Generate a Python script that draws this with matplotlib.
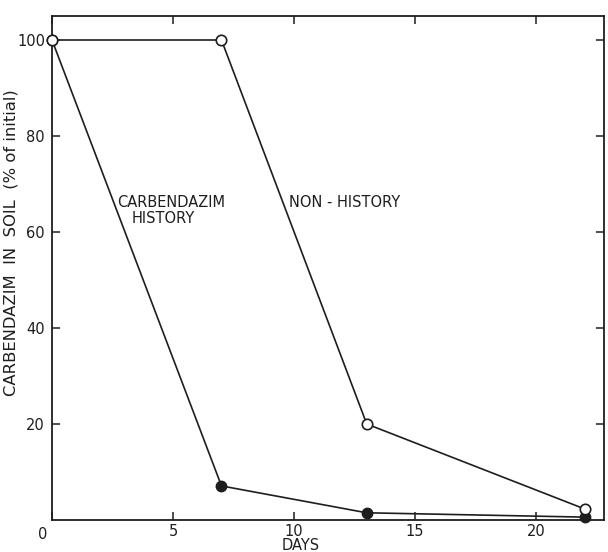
import matplotlib
matplotlib.use('agg')
import matplotlib.pyplot as plt

# days after treatment
days_hist = [0, 7, 13, 22]
days_non = [0, 7, 13, 22]
# carbendazim remaining, % of initial
hist_vals = [100, 7.1, 1.5, 0.6]
non_vals = [100, 100, 20, 2.3]

xticks = [0, 5, 10, 15, 20]
yticks = [20, 40, 60, 80, 100]

plt.rcParams['font.family'] = ['DejaVu Sans']
ink = '#1e1e1e'
fs = 10.5

fig = plt.figure(figsize=(6.08, 5.52), dpi=100)
ax = fig.add_axes([52/608, 32/552, 552/608, 504/552])

ax.plot(days_hist, hist_vals, color=ink, lw=1.2, marker='o', ms=7.5,
        mfc=ink, mec=ink, clip_on=False, zorder=3)
ax.plot(days_non, non_vals, color=ink, lw=1.2, marker='o', ms=7.5,
        mfc='white', mec=ink, mew=1.2, clip_on=False, zorder=3)

ax.set_xlim(0, 22.8)
ax.set_ylim(0, 105)
ax.set_xticks(xticks)
ax.set_yticks(yticks)
ax.tick_params(direction='in', length=6, width=1.1, colors=ink, labelsize=fs,
               top=True, right=True, pad=5)
ax.tick_params(axis='x', pad=3)
for s in ax.spines.values():
    s.set_linewidth(1.3)
    s.set_color(ink)

# the zero sits a little left of the axis corner in the original
ax.text(-0.4, -1.5, '0', ha='center', va='top', fontsize=fs, color=ink)
ax.set_xticklabels([''] + [str(t) for t in xticks[1:]])

ax.set_xlabel('DAYS', fontsize=fs, color=ink)
ax.xaxis.set_label_coords(0.45, -0.036)
ax.set_ylabel('CARBENDAZIM  IN  SOIL  (% of initial)', fontsize=11.8, color=ink)
ax.yaxis.set_label_coords(-0.06, 0.55)

ax.text(4.9, 66.2, 'CARBENDAZIM', ha='center', va='center', fontsize=fs, color=ink)
ax.text(4.6, 62.9, 'HISTORY', ha='center', va='center', fontsize=fs, color=ink)
ax.text(12.1, 66.2, 'NON - HISTORY', ha='center', va='center', fontsize=fs, color=ink)

fig.savefig('out.png', dpi=100)
